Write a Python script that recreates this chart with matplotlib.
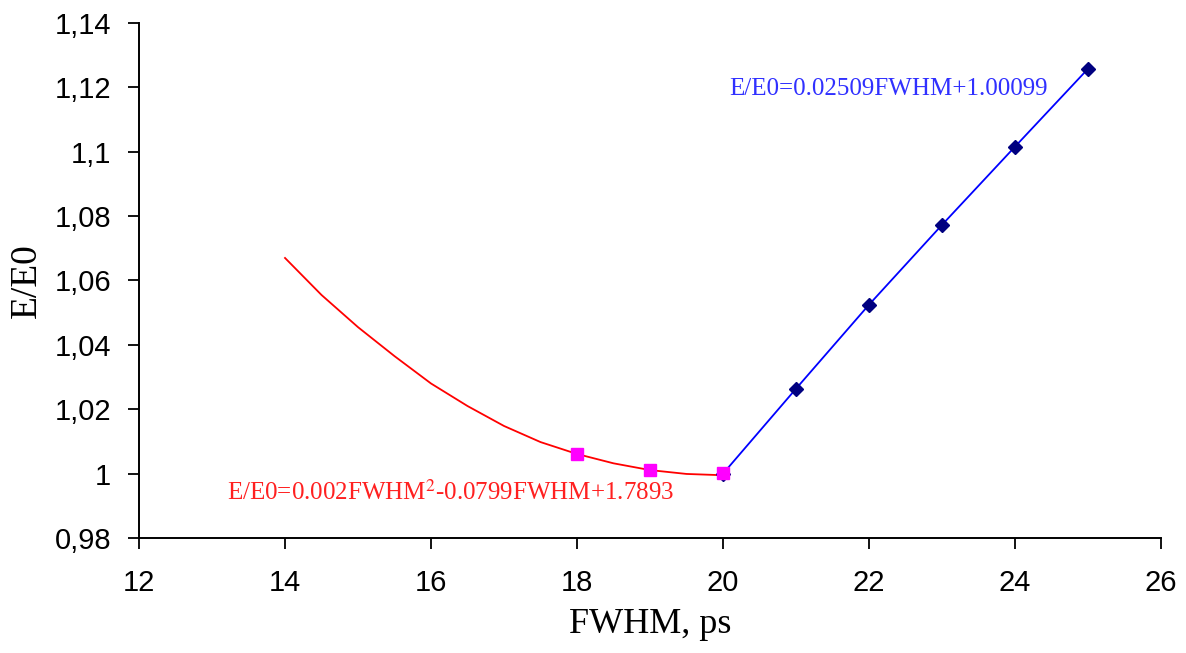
"""E/E0 versus FWHM with quadratic and linear trend lines."""
import matplotlib

matplotlib.use("Agg")
import matplotlib.pyplot as plt

# measured points
fwhm_blue = [20, 21, 22, 23, 24, 25]
ratio_blue = [1.0000, 1.0264, 1.0525, 1.0773, 1.1016, 1.1258]

fwhm_pink = [18, 19, 20]
ratio_pink = [1.0061, 1.0010, 1.0001]

# red trend curve
fwhm_curve = [14, 14.5, 15, 15.5, 16, 16.5, 17, 17.5, 18, 18.5, 19, 19.5, 20]
ratio_curve = [1.0670, 1.0555, 1.0455, 1.0365, 1.0280, 1.0210, 1.0148,
               1.0098, 1.0061, 1.0032, 1.0011, 0.9999, 0.9995]

xticks = [12, 14, 16, 18, 20, 22, 24, 26]
yticks = [0.98, 1.00, 1.02, 1.04, 1.06, 1.08, 1.10, 1.12, 1.14]
ytick_labels = ["0,98", "1", "1,02", "1,04", "1,06", "1,08", "1,1", "1,12", "1,14"]

fit_red = "E/E0=0.002FWHM$^2$-0.0799FWHM+1.7893"
fit_blue = "E/E0=0.02509FWHM+1.00099"

plt.rcParams["mathtext.fontset"] = "stix"

fig = plt.figure(figsize=(11.86, 6.53), dpi=100)
ax = fig.add_axes([0.1172, 0.1761, 0.979 - 0.1172, 0.9648 - 0.1761])

ax.plot(fwhm_curve, ratio_curve, color="#ff0000", lw=1.3, zorder=2)
ax.plot(fwhm_blue, ratio_blue, color="#0000ff", lw=1.3, marker="D", ms=7,
        mfc="#000080", mec="#000080", zorder=3)
ax.plot(fwhm_pink, ratio_pink, ls="none", marker="s", ms=9,
        mfc="#ff00ff", mec="#ff00ff", zorder=4)

ax.text(13.2, 0.9943, fit_red, color="#ff2020", fontsize=18,
        family="Liberation Serif", va="center", ha="left")
ax.text(20.08, 1.1196, fit_blue, color="#3030ff", fontsize=18,
        family="Liberation Serif", va="center", ha="left")

ax.set_xlim(12, 26)
ax.set_ylim(0.98, 1.14)
ax.set_xticks(xticks)
ax.set_xticklabels([str(t) for t in xticks])
ax.set_yticks(yticks)
ax.set_yticklabels(ytick_labels)

for side in ("top", "right"):
    ax.spines[side].set_visible(False)
for side in ("left", "bottom"):
    ax.spines[side].set_linewidth(1.4)

ax.tick_params(axis="both", direction="out", length=8, width=1.3,
               labelsize=21, colors="black")
ax.tick_params(axis="y", pad=12)
ax.tick_params(axis="x", pad=14)
for lab in ax.get_xticklabels() + ax.get_yticklabels():
    lab.set_family("Liberation Sans")

ax.set_xlabel("FWHM, ps", family="Liberation Serif", fontsize=26, labelpad=8)
ax.set_ylabel("E/E0", family="Liberation Serif", fontsize=27, labelpad=8)

fig.savefig("out.png", dpi=100)
